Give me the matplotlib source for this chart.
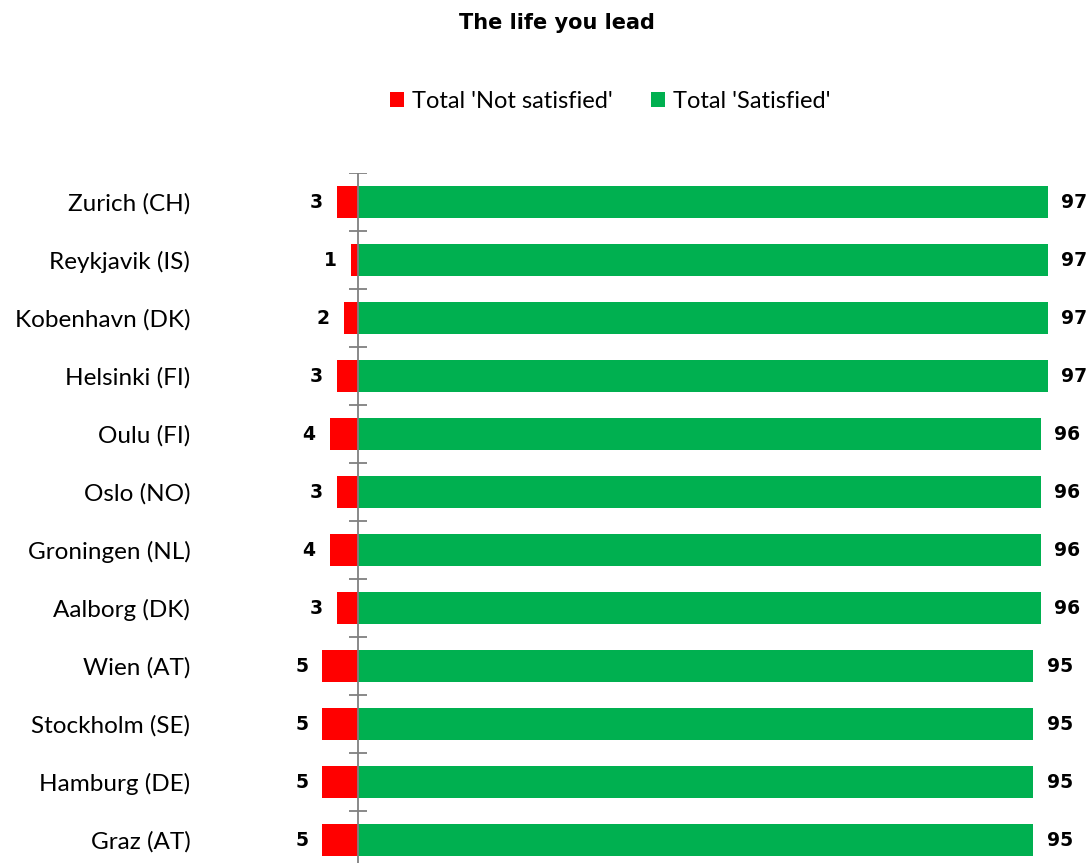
import matplotlib
matplotlib.use('Agg')
import numpy as np
from matplotlib import pyplot as plt

cities = ['Zurich (CH)', 'Reykjavik (IS)', 'Kobenhavn (DK)', 'Helsinki (FI)', 'Oulu (FI)', 'Oslo (NO)',
          'Groningen (NL)', 'Aalborg (DK)', 'Wien (AT)', 'Stockholm (SE)', 'Hamburg (DE)', 'Graz (AT)']
not_satisfied = [3, 1, 2, 3, 4, 3, 4, 3, 5, 5, 5, 5]
satisfied = [97, 97, 97, 97, 96, 96, 96, 96, 95, 95, 95, 95]

red = '#ff0000'
green = '#00b050'

fig = plt.figure(figsize=(10.92, 8.63), dpi=100)
# 轴区域底部超出画布，最后一行下方被裁掉
ax = fig.add_axes([200 / 1092, -6 / 863, 892 / 1092, 696 / 863])

y = np.arange(len(cities))
ax.barh(y, [-v for v in not_satisfied], height=0.55, color=red, label="Total 'Not satisfied'")
ax.barh(y, satisfied, height=0.55, color=green, label="Total 'Satisfied'")

for i in range(len(cities)):
    ax.annotate(str(not_satisfied[i]), (-not_satisfied[i], y[i]), xytext=(-10, 0), textcoords='offset points',
                ha='right', va='center', fontsize=13.5, fontweight='bold', family='DejaVu Sans')
    ax.annotate(str(satisfied[i]), (satisfied[i], y[i]), xytext=(9.5, 0), textcoords='offset points',
                ha='left', va='center', fontsize=13.5, fontweight='bold', family='DejaVu Sans')

ax.set_xlim((200 - 358) / 7.11, (1092 - 358) / 7.11)
ax.set_ylim(len(cities) - 0.5, -0.5)

# 中轴线和类别分隔刻度
ax.axvline(0, color='#808080', lw=1.3)
for b in np.arange(len(cities) + 1) - 0.5:
    ax.plot([-1.2, 1.2], [b, b], color='#808080', lw=1.3, solid_capstyle='butt')

ax.set_yticks(y)
ax.set_yticklabels(cities, family='Lato', fontsize=17.5)
ax.tick_params(axis='y', length=0, pad=7)
ax.set_xticks([])
for s in ax.spines.values():
    s.set_visible(False)

fig.text(557 / 1092, 1 - 23 / 863, 'The life you lead', ha='center', va='center', fontsize=15, fontweight='bold',
         family='DejaVu Sans')
fig.legend(loc='center', bbox_to_anchor=(610 / 1092, 1 - 101 / 863), ncol=2, frameon=False,
           prop={'family': 'Lato', 'size': 17}, handlelength=0.6, handleheight=0.6, handletextpad=0.35,
           columnspacing=1.6)

fig.savefig('out.png', dpi=100)
